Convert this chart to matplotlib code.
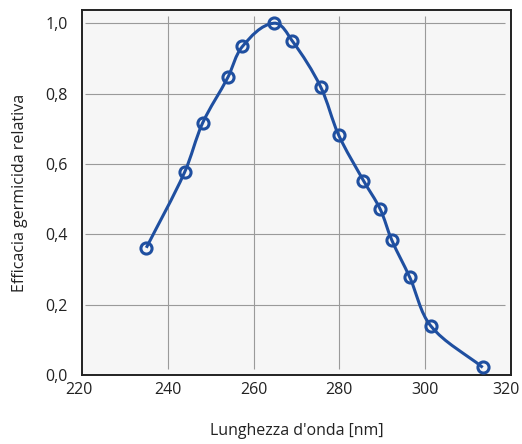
import numpy as np
import matplotlib
matplotlib.use("Agg")
import matplotlib.pyplot as plt
from matplotlib.path import Path
from matplotlib.patches import PathPatch
from matplotlib.transforms import ScaledTranslation

# --- data ---
wavelength_nm = [235.0, 243.9, 248.1, 254.0, 257.4, 264.7, 269.0, 275.6,
                 279.8, 285.6, 289.5, 292.2, 296.4, 301.3, 313.4]
efficacy = [0.362, 0.576, 0.716, 0.846, 0.934, 1.0, 0.95, 0.82,
            0.683, 0.553, 0.472, 0.384, 0.278, 0.14, 0.022]

x_ticks = [220, 240, 260, 280, 300, 320]
y_ticks = [0.0, 0.2, 0.4, 0.6, 0.8, 1.0]
y_ticklabels = [f"{v:.1f}".replace(".", ",") for v in y_ticks]

line_color = "#1f4fa0"
text_color = "#222222"
plt.rcParams["font.family"] = ["Open Sans", "DejaVu Sans"]

fig = plt.figure(figsize=(5.22, 4.44), dpi=100)
ax = fig.add_axes([0.157, 0.155, 0.822, 0.822])
ax.set_facecolor("#f6f6f6")
xlim = (220, 320)
ylim = (0, 1.037)
ax.set_xlim(*xlim)
ax.set_ylim(*ylim)

# grid lines slightly inset from the frame (Excel style)
ax.hlines(y_ticks[1:], 0.007, 0.985, transform=ax.get_yaxis_transform(),
          color="#9a9a9a", lw=0.8, zorder=1)
ax.vlines(x_ticks[1:-1], 0.017, 0.985, transform=ax.get_xaxis_transform(),
          color="#9a9a9a", lw=0.8, zorder=1)

# smoothed line: cubic Bezier segments, tangents computed in axes-aspect space
def smooth_path(xs, ys):
    sx = 0.822 * 5.22 / (xlim[1] - xlim[0])
    sy = 0.822 * 4.44 / (ylim[1] - ylim[0])
    p = np.column_stack([np.asarray(xs) * sx, np.asarray(ys) * sy])
    n = len(p)
    tang = []
    for i in range(n):
        d = p[min(i + 1, n - 1)] - p[max(i - 1, 0)]
        tang.append(d / np.hypot(*d))
    verts = [p[0]]
    codes = [Path.MOVETO]
    for i in range(n - 1):
        seg = np.hypot(*(p[i + 1] - p[i])) / 3
        verts += [p[i] + tang[i] * seg, p[i + 1] - tang[i + 1] * seg, p[i + 1]]
        codes += [Path.CURVE4] * 3
    verts = np.array(verts) / [sx, sy]
    return Path(verts, codes)

ax.add_patch(PathPatch(smooth_path(wavelength_nm, efficacy), fill=False,
                       edgecolor=line_color, lw=2.2, zorder=3))
ax.plot(wavelength_nm, efficacy, linestyle="none", marker="o", ms=8,
        mfc="none", mec=line_color, mew=2.2, zorder=4, clip_on=False)

ax.set_xticks(x_ticks)
ax.set_yticks(y_ticks)
ax.set_yticklabels(y_ticklabels)
ax.tick_params(length=0, labelsize=11.5, colors=text_color)
ax.tick_params(axis="x", pad=5)
ax.tick_params(axis="y", pad=10)
# edge labels nudged inward like the original
xlabels = ax.get_xticklabels()
xlabels[0].set_transform(xlabels[0].get_transform() + ScaledTranslation(-3 / 100, 0, fig.dpi_scale_trans))
xlabels[-1].set_transform(xlabels[-1].get_transform() + ScaledTranslation(-5 / 100, 0, fig.dpi_scale_trans))

for s in ax.spines.values():
    s.set_color(text_color)
    s.set_linewidth(1.4)

ax.set_xlabel("Lunghezza d'onda [nm]", fontsize=11.5, color=text_color, labelpad=18)
ax.set_ylabel("Efficacia germicida relativa", fontsize=11.5, color=text_color, labelpad=13)

fig.savefig("out.png", dpi=100)
